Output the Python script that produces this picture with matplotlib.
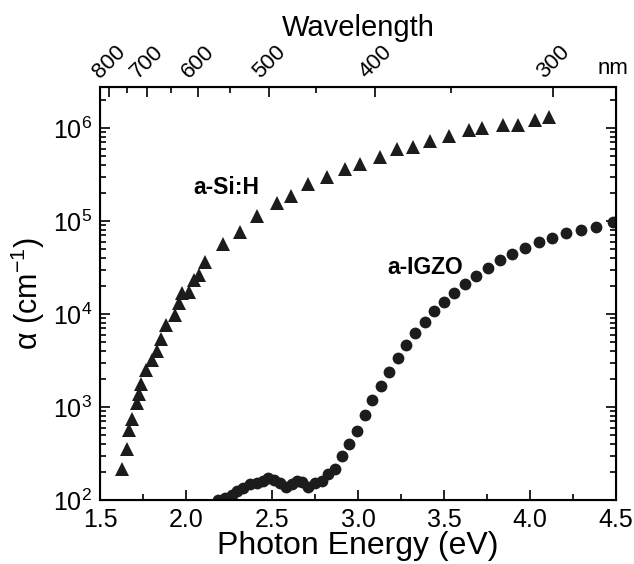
import numpy as np
import matplotlib
matplotlib.use("Agg")
import matplotlib.pyplot as plt
from matplotlib.ticker import LogLocator, MultipleLocator, NullFormatter

plt.rcParams['font.family'] = ['Liberation Sans', 'DejaVu Sans']
plt.rcParams['mathtext.default'] = 'regular'

# a-Si:H (triangles), photon energy in eV and absorption coefficient in cm^-1
sih_energy = [1.623, 1.656, 1.668, 1.682, 1.711, 1.726, 1.737, 1.765, 1.802, 1.827,
              1.852, 1.884, 1.931, 1.957, 1.977, 2.015, 2.044, 2.073, 2.111, 2.211,
              2.312, 2.409, 2.526, 2.609, 2.710, 2.821, 2.925, 3.010, 3.127, 3.224,
              3.321, 3.420, 3.529, 3.647, 3.719, 3.845, 3.928, 4.029, 4.112]
sih_alpha = [217, 357, 565, 743, 1100, 1375, 1780, 2520, 3170, 3990,
             5320, 7640, 9820, 13000, 16700, 17300, 23000, 26100, 36300, 56800,
             76600, 112000, 155000, 186000, 247000, 299000, 360000, 415000, 493000, 593000,
             620000, 723000, 822000, 959000, 993000, 1.09e6, 1.09e6, 1.21e6, 1.32e6]

# a-IGZO (circles)
igzo_energy = [2.186, 2.225, 2.264, 2.296, 2.331, 2.370, 2.409, 2.444, 2.477, 2.510,
               2.545, 2.580, 2.613, 2.642, 2.671, 2.710, 2.749, 2.788, 2.824, 2.865,
               2.906, 2.948, 2.995, 3.038, 3.083, 3.130, 3.179, 3.230, 3.278, 3.332,
               3.389, 3.443, 3.501, 3.559, 3.622, 3.684, 3.757, 3.828, 3.898, 3.971,
               4.050, 4.128, 4.211, 4.299, 4.384, 4.485]
igzo_alpha = [100, 105, 114, 124, 135, 147, 153, 160, 172, 163,
              154, 139, 149, 161, 155, 137, 151, 160, 189, 217,
              294, 396, 553, 811, 1175, 1690, 2380, 3340, 4650, 6200,
              8240, 10700, 13500, 16900, 20800, 25700, 31600, 38000, 44700, 51300,
              59400, 65500, 73500, 80300, 87000, 96400]

# top axis
wl_major = [800, 700, 600, 500, 400, 300]
wl_minor = [750, 650, 550, 450, 350]

ink = '#1c1c1c'

fig = plt.figure(figsize=(6.34, 5.64), dpi=100)
ax = fig.add_axes([0.1585, 0.1135, 0.813, 0.732])

ax.plot(sih_energy, sih_alpha, linestyle='none', marker='^', markersize=10,
        color=ink, markeredgewidth=0)
ax.plot(igzo_energy, igzo_alpha, linestyle='none', marker='o', markersize=8.5,
        color=ink, markeredgewidth=0)

ax.set_yscale('log')
ax.set_xlim(1.5, 4.5)
ax.set_ylim(100, 2.75e6)

ax.xaxis.set_major_locator(MultipleLocator(0.5))
ax.xaxis.set_minor_locator(MultipleLocator(0.25))
ax.yaxis.set_major_locator(LogLocator(base=10, numticks=10))
ax.yaxis.set_minor_locator(LogLocator(base=10, subs=np.arange(2, 10), numticks=20))
ax.yaxis.set_minor_formatter(NullFormatter())

ax.tick_params(which='both', direction='in', top=False, right=True, width=1.2,
               labelsize=18, pad=6)
ax.tick_params(which='major', length=7)
ax.tick_params(which='minor', length=4)

for s in ax.spines.values():
    s.set_linewidth(1.5)

ax.set_xlabel('Photon Energy (eV)', fontsize=23, labelpad=-1)
ax.set_ylabel(r'$\alpha$ (cm$^{-1}$)', fontsize=22, labelpad=4)

ax.text(2.04, 2.3e5, 'a-Si:H', fontsize=16.5, fontweight='bold', ha='left', va='center')
ax.text(3.17, 3.2e4, 'a-IGZO', fontsize=16.5, fontweight='bold', ha='left', va='center')

# wavelength axis on top
top = ax.twiny()
top.set_xlim(ax.get_xlim())
top.set_xticks([1240.0 / w for w in wl_major])
top.set_xticklabels([str(w) for w in wl_major], rotation=45, ha='center', va='bottom')
top.set_xticks([1240.0 / w for w in wl_minor], minor=True)
top.tick_params(which='both', direction='in', width=1.2, labelsize=16, pad=3)
top.tick_params(which='major', length=7)
top.tick_params(which='minor', length=4)
top.set_xlabel('Wavelength', fontsize=21, labelpad=4)
top.text(0.965, 1.045, 'nm', transform=ax.transAxes, fontsize=16, ha='left', va='center')

fig.savefig('out.png', dpi=100, facecolor='white')
